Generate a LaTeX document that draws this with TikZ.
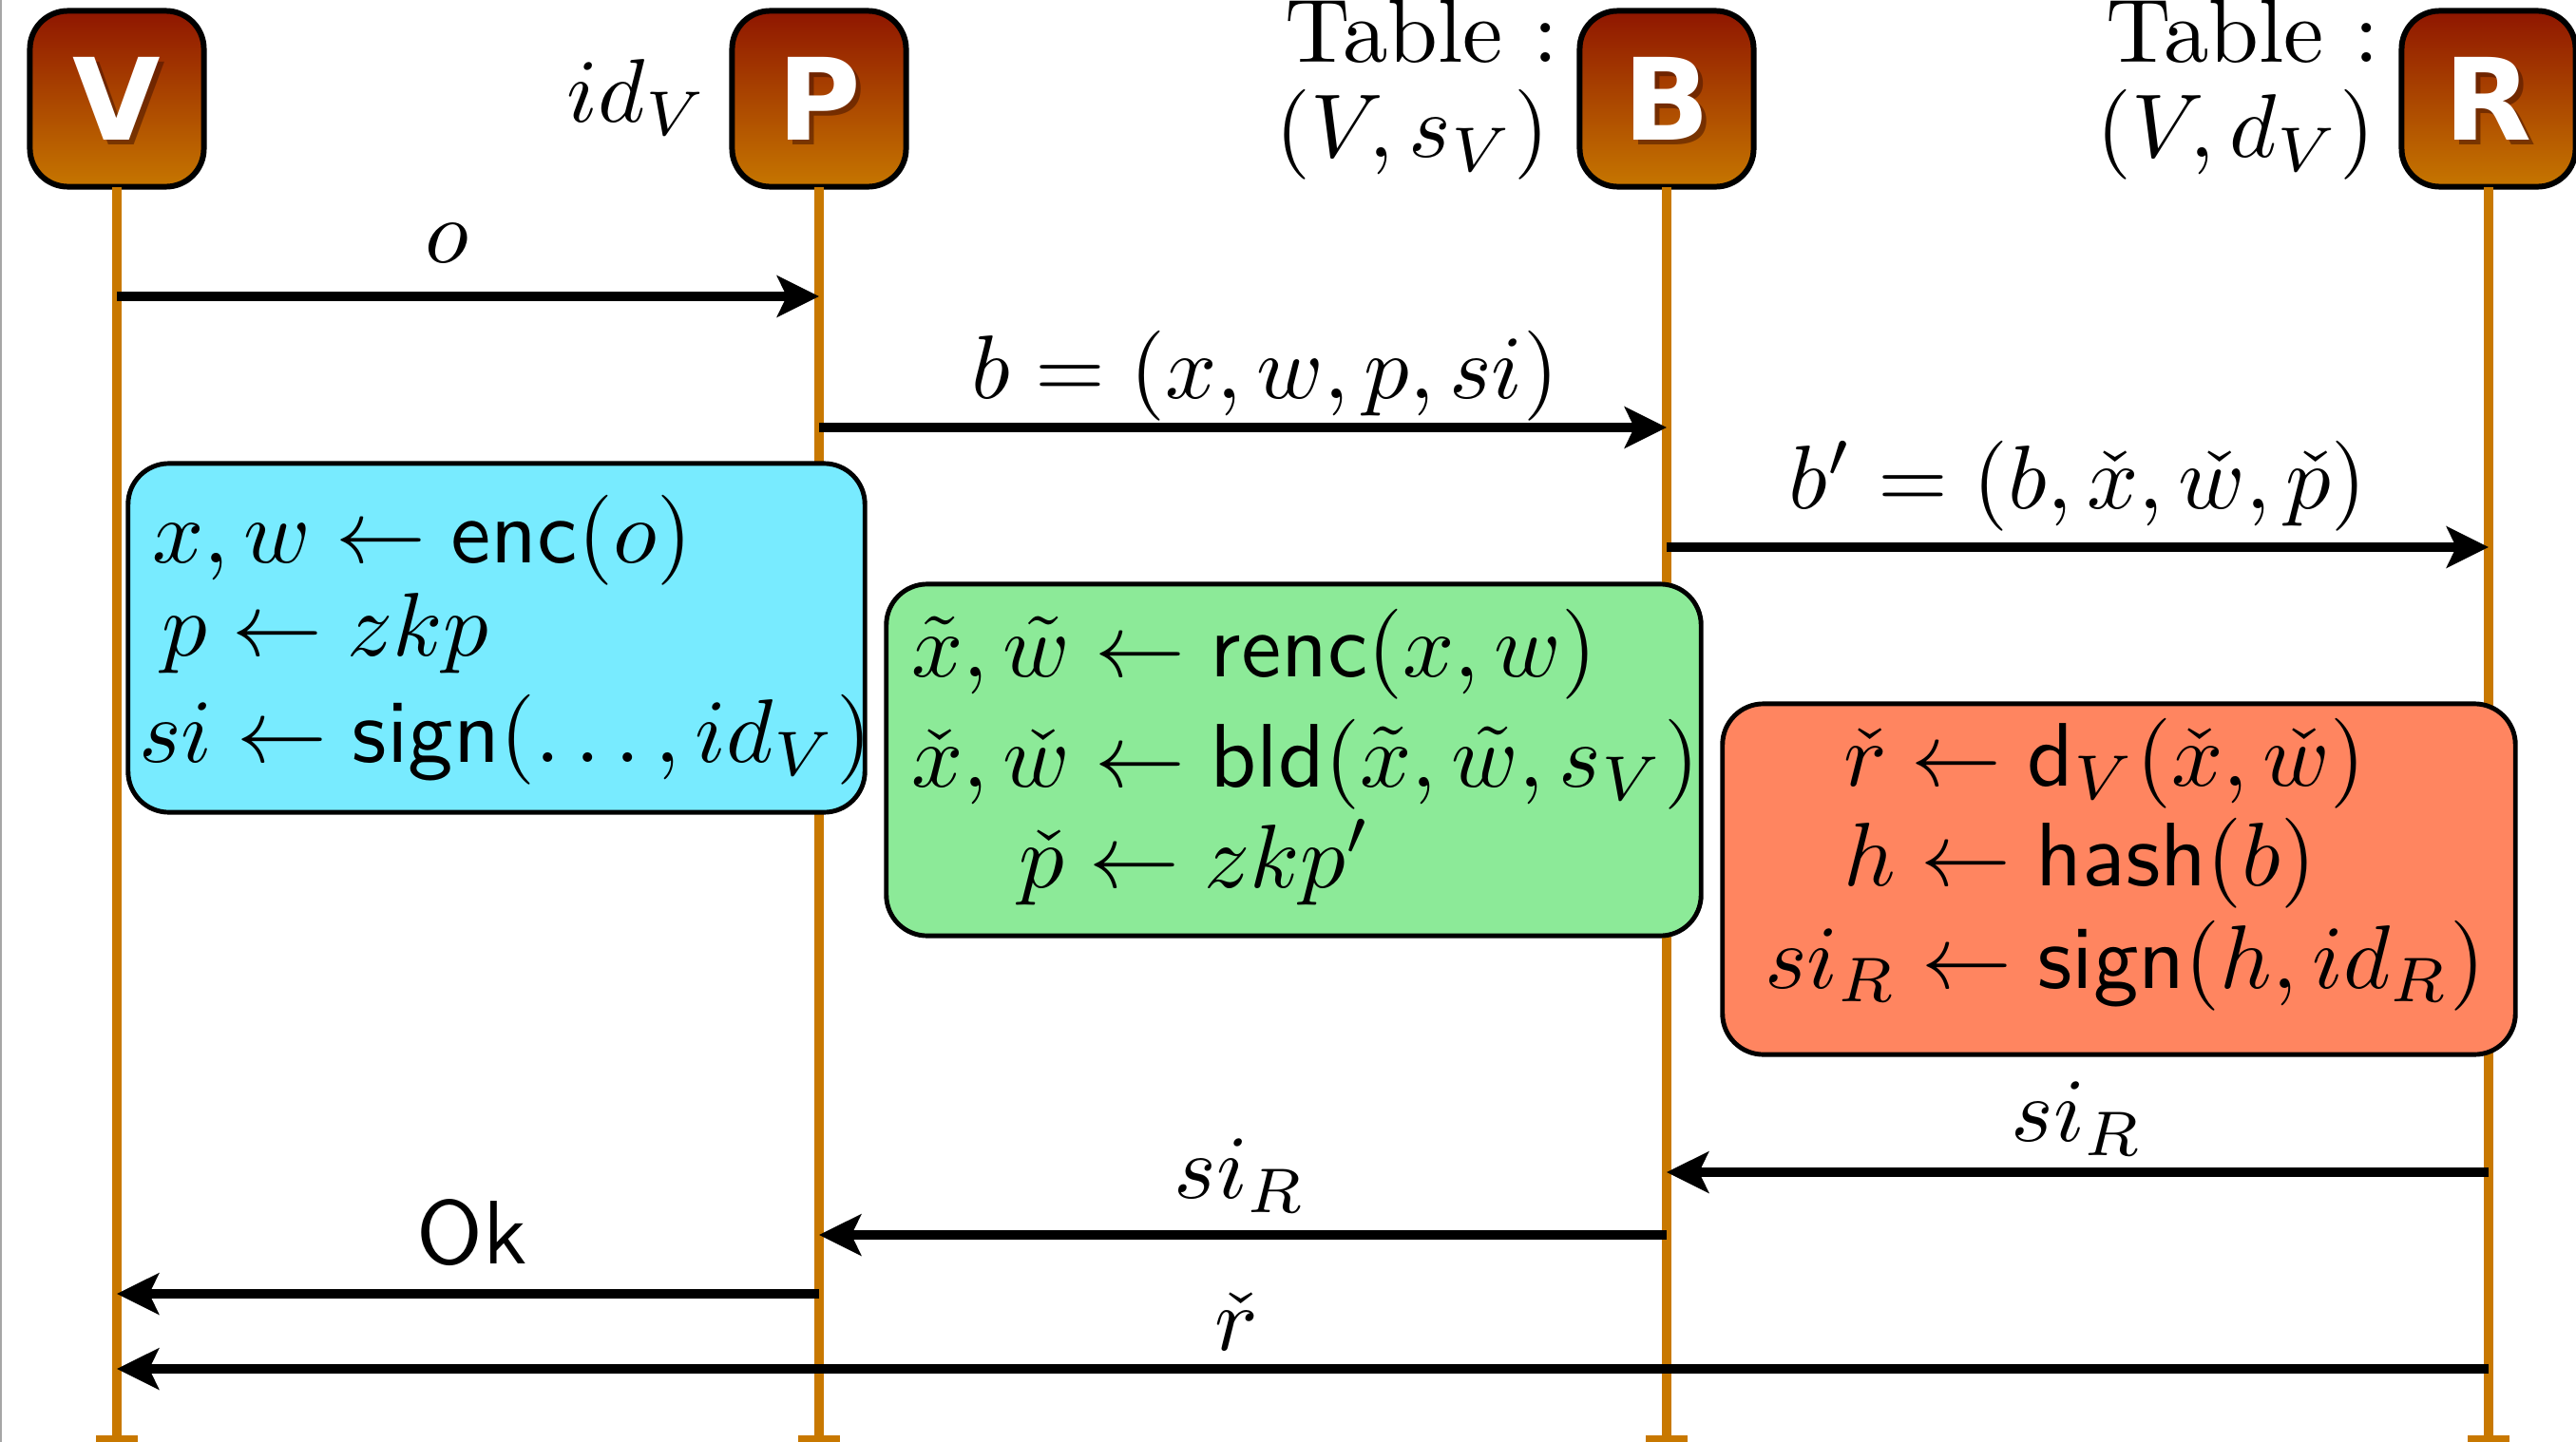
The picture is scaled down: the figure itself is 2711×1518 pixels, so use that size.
\documentclass[tikz,border=0pt]{standalone}
\usepackage{fontspec}
\usepackage{graphicx}
\newfontfamily\headfont{DejaVu Sans}
\usetikzlibrary{arrows.meta}
\definecolor{headtop}{RGB}{143,22,0}
\definecolor{headbot}{RGB}{198,118,0}
\definecolor{lifec}{RGB}{200,120,0}
\definecolor{cyanbox}{RGB}{120,235,255}
\definecolor{greenbox}{RGB}{140,234,152}
\definecolor{coralbox}{RGB}{255,133,96}
\definecolor{shadowc}{RGB}{70,20,0}
\newcommand\bigsz[1]{\scalebox{2.7}{#1}}
\begin{document}
\begin{tikzpicture}[x=0.01cm,y=-0.01cm,
  every node/.style={inner sep=0pt,outer sep=0pt},
  head/.style={draw=black,line width=1.7pt,rounded corners=0.4cm,minimum width=1.83cm,minimum height=1.85cm,top color=headtop,bottom color=headbot},
  headletter/.style={font=\headfont\bfseries\fontsize{34}{34}\selectfont,text=white},
  headshadow/.style={font=\headfont\bfseries\fontsize{34}{34}\selectfont,text=shadowc,opacity=0.55},
  life/.style={draw=lifec,line width=2.8pt},
  msg/.style={line width=2.8pt,-{Stealth[length=0.44cm,width=0.43cm,inset=0.1cm]}},
  lbl/.style={font=\fontsize{10}{12}\selectfont,anchor=base},
  txt/.style={font=\fontsize{10}{12}\selectfont,anchor=base west},
  side/.style={font=\fontsize{10}{12}\selectfont,anchor=base east},
  calcbox/.style={draw=black,line width=1.4pt,rounded corners=0.43cm},
]
\useasboundingbox (0,0) rectangle (2711,1518);
\draw[gray!70,line width=0.6pt] (1,0) -- (1,1518);

% head boxes
\node[head] (hV) at (123,104) {};
\node[head] (hP) at (862,104) {};
\node[head] (hB) at (1754,104) {};
\node[head] (hR) at (2619,104) {};
\foreach \n/\l in {hV/V,hP/P,hB/B,hR/R}{
  \node[headshadow] at ([xshift=0.05cm,yshift=-0.05cm]\n.center) {\l};
  \node[headletter] (\n-t) at (\n.center) {\l};
}

% lifeline ends
\coordinate (eV) at (123,1518);
\coordinate (eP) at (862,1518);
\coordinate (eB) at (1754,1518);
\coordinate (eR) at (2619,1518);
\foreach \n/\e in {hV/eV,hP/eP,hB/eB,hR/eR}{
  \draw[life] (\n.south) -- (\e);
  \fill[lifec] ([xshift=-0.22cm]\e) rectangle ([xshift=0.22cm,yshift=0.07cm]\e);
}

% side labels
\node[side] (idV) at (745,128) {\bigsz{$id_V$}};
\node[side] (tB1) at (1640,65) {\bigsz{Table~:}};
\node[side] (tB2) at (1630,166) {\bigsz{$(V,s_V)$}};
\node[side] (tR1) at (2504,65) {\bigsz{Table~:}};
\node[side] (tR2) at (2499,166) {\bigsz{$(V,d_V)$}};

% computation boxes
\node[calcbox,fill=cyanbox,minimum width=7.75cm,minimum height=3.67cm] (cbox) at (522.5,671.5) {};
\node[txt] (c1) at (160,592) {\bigsz{$x, w \leftarrow \textsf{enc}(o)$}};
\node[txt] (c2) at (170,690) {\bigsz{$p \leftarrow zkp$}};
\node[txt] (c3) at (146,802) {\bigsz{$si \leftarrow \textsf{sign}(\ldots, id_V)$}};

\node[calcbox,fill=greenbox,minimum width=8.57cm,minimum height=3.70cm] (gbox) at (1361.5,800) {};
\node[txt] (g1) at (959,712) {\bigsz{$\tilde{x}, \tilde{w} \leftarrow \textsf{renc}(x, w)$}};
\node[txt] (g2) at (959,828) {\bigsz{$\check{x}, \check{w} \leftarrow \textsf{bld}(\tilde{x}, \tilde{w}, s_V)$}};
\node[txt] (g3) at (1072,934) {\bigsz{$\check{p} \leftarrow zkp'$}};

\node[calcbox,fill=coralbox,minimum width=8.34cm,minimum height=3.69cm] (rbox) at (2230,925.5) {};
\node[txt] (r1) at (1940,827) {\bigsz{$\check{r} \leftarrow \textsf{d}_V(\check{x}, \check{w})$}};
\node[txt] (r2) at (1940,932) {\bigsz{$h \leftarrow \textsf{hash}(b)$}};
\node[txt] (r3) at (1857,1040) {\bigsz{$si_R \leftarrow \textsf{sign}(h, id_R)$}};

% message coordinates
\coordinate (m1a) at (123,312);  \coordinate (m1b) at (862,312);
\coordinate (m2a) at (862,450);  \coordinate (m2b) at (1754,450);
\coordinate (m3a) at (1754,576); \coordinate (m3b) at (2619,576);
\coordinate (m4a) at (2619,1234);\coordinate (m4b) at (1754,1234);
\coordinate (m5a) at (1754,1300);\coordinate (m5b) at (862,1300);
\coordinate (m6a) at (862,1362); \coordinate (m6b) at (123,1362);
\coordinate (m7a) at (2619,1441);\coordinate (m7b) at (123,1441);

\draw[msg] (m1a) -- node[lbl,pos=0.47,yshift=0.35cm] (l1) {\bigsz{$o$}} (m1b);
\draw[msg] (m2a) -- node[lbl,pos=0.526,yshift=0.30cm] (l2) {\bigsz{$b = (x, w, p, si)$}} (m2b);
\draw[msg] (m3a) -- node[lbl,pos=0.5,yshift=0.40cm] (l3) {\bigsz{$b' = (b, \check{x}, \check{w}, \check{p})$}} (m3b);
\draw[msg] (m4a) -- node[lbl,pos=0.5,yshift=0.32cm] (l4) {\bigsz{$si_R$}} (m4b);
\draw[msg] (m5a) -- node[lbl,pos=0.503,yshift=0.38cm] (l5) {\bigsz{$si_R$}} (m5b);
\draw[msg] (m6a) -- node[lbl,pos=0.494,yshift=0.31cm] (l6) {\bigsz{\textsf{Ok}}} (m6b);
\draw[msg] (m7a) -- node[lbl,pos=0.528,yshift=0.20cm] (l7) {\bigsz{$\check{r}$}} (m7b);
\end{tikzpicture}
\end{document}
